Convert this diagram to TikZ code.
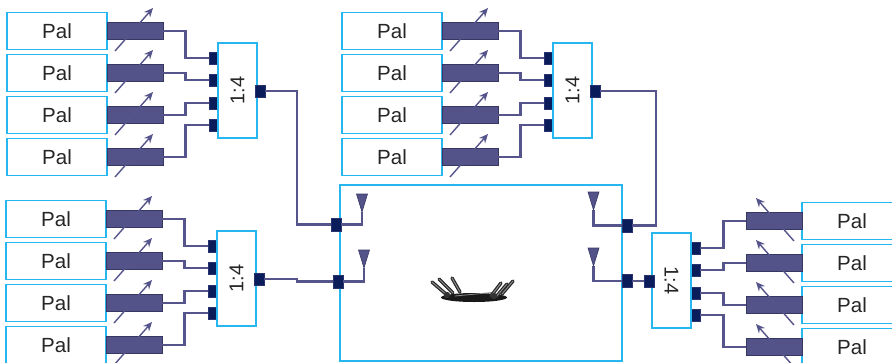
\documentclass[tikz,border=0pt]{standalone}
\usepackage{fontspec}
\setmainfont{Liberation Sans}
\usetikzlibrary{arrows.meta}

\definecolor{cyanline}{RGB}{38,183,240}
\definecolor{barfill}{RGB}{83,83,137}
\definecolor{bardraw}{RGB}{55,55,100}
\definecolor{wirecol}{RGB}{85,85,140}
\definecolor{portfill}{RGB}{10,28,90}
\definecolor{portdraw}{RGB}{40,50,110}

\tikzset{
  palbox/.style={draw=cyanline, line width=1.2pt, fill=white, minimum width=100pt,
    minimum height=37pt, inner sep=0pt, font=\fontsize{20.5}{20.5}\selectfont, text=black!85},
  shifter/.style={draw=bardraw, line width=0.9pt, fill=barfill, minimum width=56pt,
    minimum height=17pt, inner sep=0pt},
  splitbox/.style={draw=cyanline, line width=1.2pt, fill=white, minimum width=95pt,
    minimum height=39pt, inner sep=0pt, font=\fontsize{20}{20}\selectfont, text=black!85},
  port/.style={draw=portdraw, line width=0.6pt, fill=portfill, minimum width=10pt,
    minimum height=12pt, inner sep=0pt},
  wire/.style={draw=wirecol, line width=2.4pt},
  tune/.style={draw=wirecol, line width=1.4pt, -{Stealth[length=9pt,width=8pt]}},
  antenna/.style={fill=barfill, draw=bardraw, line width=0.6pt, line join=miter},
  routerbox/.style={draw=cyanline, line width=1.4pt, fill=white, minimum width=282pt,
    minimum height=176pt, inner sep=0pt},
}

% One feed group: four Pal sources, tunable phase shifters and a 1:4 combiner.
% #1 name, #2/#3 shift, #4 xscale (1 or -1), #5 label rotation,
% #6 anchor of a shifter facing the combiner, #7 anchor of a combiner port facing the shifters
\newcommand\feedgroup[7]{%
  \begin{scope}[shift={(#2,#3)}, xscale=#4]
    \foreach \i/\c/\p in {1/31/58, 2/73/80, 3/115/103, 4/157/125} {
      \node[palbox] (#1-pal\i) at (57,\c) {Pal};
      \node[shifter] (#1-bar\i) at (135,\c) {};
      \node[port] (#1-in\i) at (214,\p) {};
    }
    \node[splitbox, rotate=#5] (#1-split) at (237.5,90.5) {1:4};
    \node[port] (#1-out) at (260,91) {};
    \foreach \i in {1,...,4} {
      \draw[wire] (#1-bar\i.#6) -- ++(22,0) |- (#1-in\i.#7);
      \draw[tune] (#1-bar\i.center) ++(-20,20) -- ++(38,-43);
    }
  \end{scope}}

\begin{document}
\begin{tikzpicture}[x=1pt, y=-1pt]
  \useasboundingbox (0,0) rectangle (892,362);
  \clip (0,0) rectangle (892,362);

  % access point with four antenna feeds
  \node[routerbox] (router) at (481,273) {};
  \node[port, minimum height=13pt] (R-l1) at (336,224.5) {};
  \node[port, minimum height=13pt] (R-l2) at (338,281.5) {};
  \node[port, minimum height=13pt] (R-r1) at (627,225.5) {};
  \node[port, minimum height=13pt] (R-r2) at (627,281) {};
  \coordinate (R-a1) at (362,212);
  \coordinate (R-a2) at (364,268);
  \coordinate (R-a3) at (593.5,210);
  \coordinate (R-a4) at (593.5,266);
  \draw[wire] (R-l1.east) -| (R-a1);
  \draw[wire] (R-l2.east) -| (R-a2);
  \draw[wire] (R-r1.west) -| (R-a3);
  \draw[wire] (R-r2.west) -| (R-a4);
  \foreach \a in {R-a1,R-a2,R-a3,R-a4}
    \draw[antenna] (\a) -- ++(-5.5,-18) -- ++(11,0) -- cycle;

  % router icon
  \begin{scope}[line cap=round]
    \fill[black!90] (474,297.5) ellipse [x radius=33, y radius=4.5];
    \draw[black!45, line width=0.8pt] (455,296) -- (492,292.5);
    \foreach \xa/\ya/\xb/\yb in {447/295/432/282, 453/293/439/279, 460/292/452/278,
                                 491/296/501/283, 496/297/507/284, 502/294/513/281} {
      \draw[black!85, line width=3.4pt] (\xa,\ya) -- (\xb,\yb);
      \draw[black!45, line width=1pt] (\xa,\ya) -- (\xb,\yb);
    }
    \fill[black!80] (447,295) circle (3.2);
    \fill[black!80] (494,296) circle (3.2);
  \end{scope}

  % feed groups
  \feedgroup{A}{0}{0}{1}{90}{east}{west}
  \feedgroup{B}{335}{0}{1}{90}{east}{west}
  \feedgroup{C}{-1}{188}{1}{90}{east}{west}
  \feedgroup{D}{909}{190}{-1}{-90}{west}{east}

  % combiners to the access point
  \coordinate (jA) at (297,224.5);
  \coordinate (jC1) at (297,279);
  \coordinate (jC2) at (297,281.5);
  \coordinate (jB) at (656,225.5);
  \draw[wire] (A-out.east) -| (jA) -- (R-l1.west);
  \draw[wire] (C-out.east) -- (jC1) -- (jC2) -- (R-l2.west);
  \draw[wire] (B-out.east) -| (jB) -- (R-r1.east);
  \draw[wire] (R-r2.east) -- (D-out.west);
\end{tikzpicture}
\end{document}
